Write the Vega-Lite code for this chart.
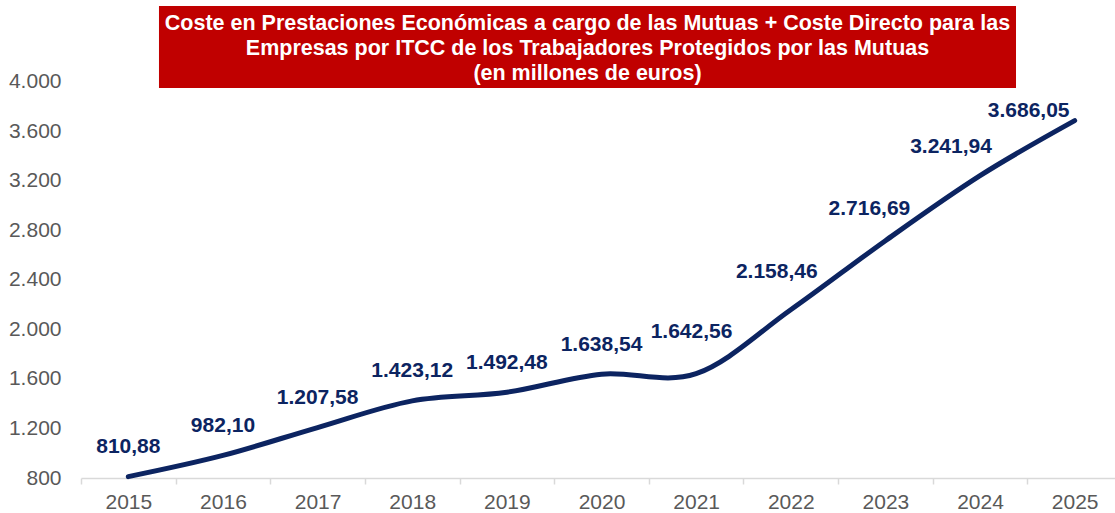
{
  "$schema": "https://vega.github.io/schema/vega-lite/v6.json",
  "width": 1034,
  "height": 473,
  "autosize": "none",
  "padding": {"left": 81, "top": 5, "right": 0, "bottom": 35},
  "config": {
    "view": {"stroke": null},
    "font": "Liberation Sans",
    "locale": {"number": {"decimal": ",", "thousands": ".", "grouping": [3], "currency": ["", " €"]}}
  },
  "data": {
    "values": [
      {"year": "2015", "value": 810.88},
      {"year": "2016", "value": 982.10},
      {"year": "2017", "value": 1207.58},
      {"year": "2018", "value": 1423.12},
      {"year": "2019", "value": 1492.48},
      {"year": "2020", "value": 1638.54},
      {"year": "2021", "value": 1642.56},
      {"year": "2022", "value": 2158.46},
      {"year": "2023", "value": 2716.69},
      {"year": "2024", "value": 3241.94},
      {"year": "2025", "value": 3686.05}
    ]
  },
  "resolve": {"scale": {"x": "independent"}, "axis": {"x": "independent"}},
  "layer": [
    {
      "data": {"values": [{"t": "title"}]},
      "layer": [
        {
          "mark": {"type": "rect", "color": "#c00000"},
          "encoding": {
            "x": {"datum": 2015.324, "type": "quantitative", "scale": {"domain": [2014.5, 2025.5], "range": [0, 1041], "nice": false, "zero": false}, "axis": null},
            "x2": {"datum": 2024.38},
            "y": {"datum": 4612, "type": "quantitative", "scale": {"domain": [800, 4620], "nice": false, "zero": false}},
            "y2": {"datum": 3950}
          }
        },
        {
          "mark": {
            "type": "text",
            "text": ["Coste en Prestaciones Económicas a cargo de las Mutuas + Coste Directo para las", "Empresas por ITCC de los Trabajadores Protegidos por las Mutuas", "(en millones de euros)"],
            "fontSize": 21.5,
            "fontWeight": "bold",
            "color": "#ffffff",
            "align": "center",
            "baseline": "middle",
            "lineHeight": 25
          },
          "encoding": {
            "x": {"datum": 2019.852, "type": "quantitative"},
            "y": {"datum": 4467, "type": "quantitative"}
          }
        }
      ]
    },
    {
      "encoding": {
        "x": {
          "field": "year", "type": "ordinal",
          "scale": {"type": "band", "paddingInner": 0, "paddingOuter": 0, "range": [0, 1041]},
          "axis": {
            "orient": "bottom",
            "title": null, "labelAngle": 0, "tickBand": "extent", "grid": false,
            "domainColor": "#d9d9d9", "tickColor": "#d9d9d9", "domainWidth": 1.5, "tickWidth": 1.5, "tickSize": 6,
            "labelFontSize": 21, "labelColor": "#595959", "labelPadding": 7, "labelFont": "Liberation Sans"
          }
        },
        "y": {
          "field": "value", "type": "quantitative",
          "scale": {"domain": [800, 4620], "nice": false, "zero": false},
          "axis": {
            "title": null, "values": [800, 1200, 1600, 2000, 2400, 2800, 3200, 3600, 4000], "format": ",d",
            "domain": false, "ticks": false, "grid": false, "labelOverlap": false,
            "labelFontSize": 21, "labelColor": "#595959", "labelPadding": 20, "labelFont": "Liberation Sans"
          }
        }
      },
      "layer": [
        {
          "mark": {"type": "line", "interpolate": "cardinal", "color": "#0c2461", "strokeWidth": 5, "strokeCap": "round"}
        },
        {
          "transform": [{"filter": "toNumber(datum.year) <= 2020"}],
          "mark": {"type": "text", "fontSize": 21, "fontWeight": "bold", "color": "#0c2461", "align": "center", "baseline": "alphabetic", "dy": -23.5},
          "encoding": {"text": {"field": "value", "type": "quantitative", "format": ",.2f"}}
        },
        {
          "transform": [{"filter": "datum.year == '2021'"}],
          "mark": {"type": "text", "fontSize": 21, "fontWeight": "bold", "color": "#0c2461", "align": "center", "baseline": "alphabetic", "dx": -4.6, "dy": -35.4},
          "encoding": {"text": {"field": "value", "type": "quantitative", "format": ",.2f"}}
        },
        {
          "transform": [{"filter": "datum.year == '2022'"}],
          "mark": {"type": "text", "fontSize": 21, "fontWeight": "bold", "color": "#0c2461", "align": "center", "baseline": "alphabetic", "dx": -14, "dy": -31.5},
          "encoding": {"text": {"field": "value", "type": "quantitative", "format": ",.2f"}}
        },
        {
          "transform": [{"filter": "datum.year == '2023'"}],
          "mark": {"type": "text", "fontSize": 21, "fontWeight": "bold", "color": "#0c2461", "align": "center", "baseline": "alphabetic", "dx": -16, "dy": -26},
          "encoding": {"text": {"field": "value", "type": "quantitative", "format": ",.2f"}}
        },
        {
          "transform": [{"filter": "datum.year == '2024'"}],
          "mark": {"type": "text", "fontSize": 21, "fontWeight": "bold", "color": "#0c2461", "align": "center", "baseline": "alphabetic", "dx": -29, "dy": -23},
          "encoding": {"text": {"field": "value", "type": "quantitative", "format": ",.2f"}}
        },
        {
          "transform": [{"filter": "datum.year == '2025'"}],
          "mark": {"type": "text", "fontSize": 21, "fontWeight": "bold", "color": "#0c2461", "align": "center", "baseline": "alphabetic", "dx": -46, "dy": -4},
          "encoding": {"text": {"field": "value", "type": "quantitative", "format": ",.2f"}}
        }
      ]
    }
  ]
}
